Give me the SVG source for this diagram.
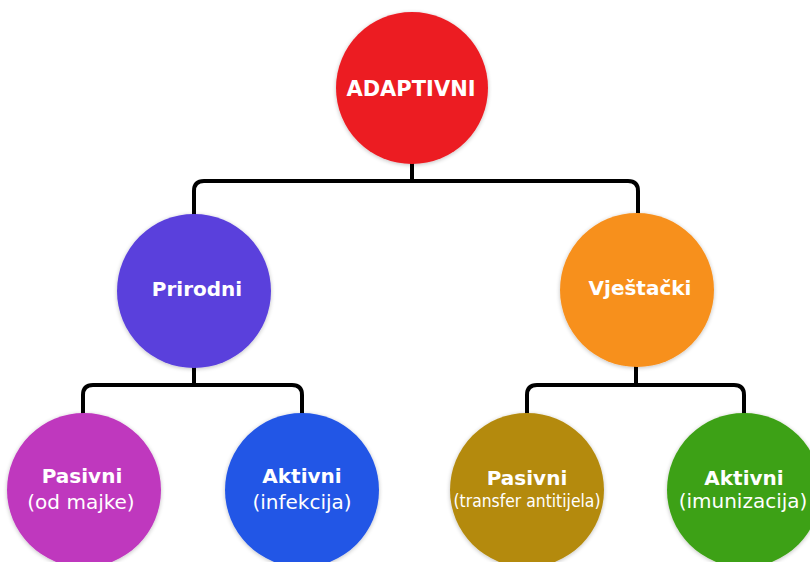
<svg xmlns="http://www.w3.org/2000/svg" width="810" height="562" viewBox="0 0 810 562">
<style>
.c{stroke:none}
.t{font-family:"DejaVu Sans","Verdana",sans-serif;fill:#ffffff;text-anchor:middle}
.b{font-weight:bold;font-size:20px}
.r{font-size:20px}
.ln{fill:none;stroke:#000;stroke-width:4;stroke-linejoin:round}
</style>
<defs>
<filter id="sh" x="-20%" y="-20%" width="140%" height="140%">
<feGaussianBlur in="SourceAlpha" stdDeviation="2"/>
<feOffset dx="0" dy="1"/>
<feComponentTransfer><feFuncA type="linear" slope="0.25"/></feComponentTransfer>
<feMerge><feMergeNode/><feMergeNode in="SourceGraphic"/></feMerge>
</filter>
</defs>
<rect width="810" height="562" fill="#ffffff"/>
<g id="connectors">
<path class="ln" d="M412,162 V181 M194,216 V191 Q194,181 204,181 H628 Q638,181 638,191 V215"/>
<path class="ln" d="M194,366 V385 M83,414 V395 Q83,385 93,385 H292 Q302,385 302,395 V414"/>
<path class="ln" d="M636,366 V385 M527,414 V395 Q527,385 537,385 H734 Q744,385 744,395 V414"/>
</g>
<g id="adaptivni">
<circle class="c" cx="412" cy="88" r="76" fill="#EC1C24" filter="url(#sh)"/>
<text class="t b" x="411" y="96" style="font-size:21px">ADAPTIVNI</text>
</g>
<g id="prirodni">
<circle class="c" cx="194" cy="291" r="77" fill="#5A40DC" filter="url(#sh)"/>
<text class="t b" x="197" y="296">Prirodni</text>
</g>
<g id="vjestacki">
<circle class="c" cx="637" cy="290" r="77" fill="#F7901E" filter="url(#sh)"/>
<text class="t b" x="640" y="295">Vještački</text>
</g>
<g id="pasivni-prirodni">
<circle class="c" cx="84" cy="490" r="77" fill="#BF38BE" filter="url(#sh)"/>
<text class="t b" x="82" y="483">Pasivni</text>
<text class="t r" x="81" y="509">(od majke)</text>
</g>
<g id="aktivni-prirodni">
<circle class="c" cx="302" cy="490" r="77" fill="#2356E6" filter="url(#sh)"/>
<text class="t b" x="302" y="483">Aktivni</text>
<text class="t r" x="302" y="509">(infekcija)</text>
</g>
<g id="pasivni-vjestacki">
<circle class="c" cx="527" cy="490" r="77" fill="#B48A0E" filter="url(#sh)"/>
<text class="t b" x="527" y="485">Pasivni</text>
<text class="t r" x="527" y="507" style="font-size:18px" textLength="147" lengthAdjust="spacingAndGlyphs">(transfer antitijela)</text>
</g>
<g id="aktivni-vjestacki">
<circle class="c" cx="744" cy="490" r="77" fill="#3DA114" filter="url(#sh)"/>
<text class="t b" x="744" y="485">Aktivni</text>
<text class="t r" x="743" y="508">(imunizacija)</text>
</g>
</svg>
